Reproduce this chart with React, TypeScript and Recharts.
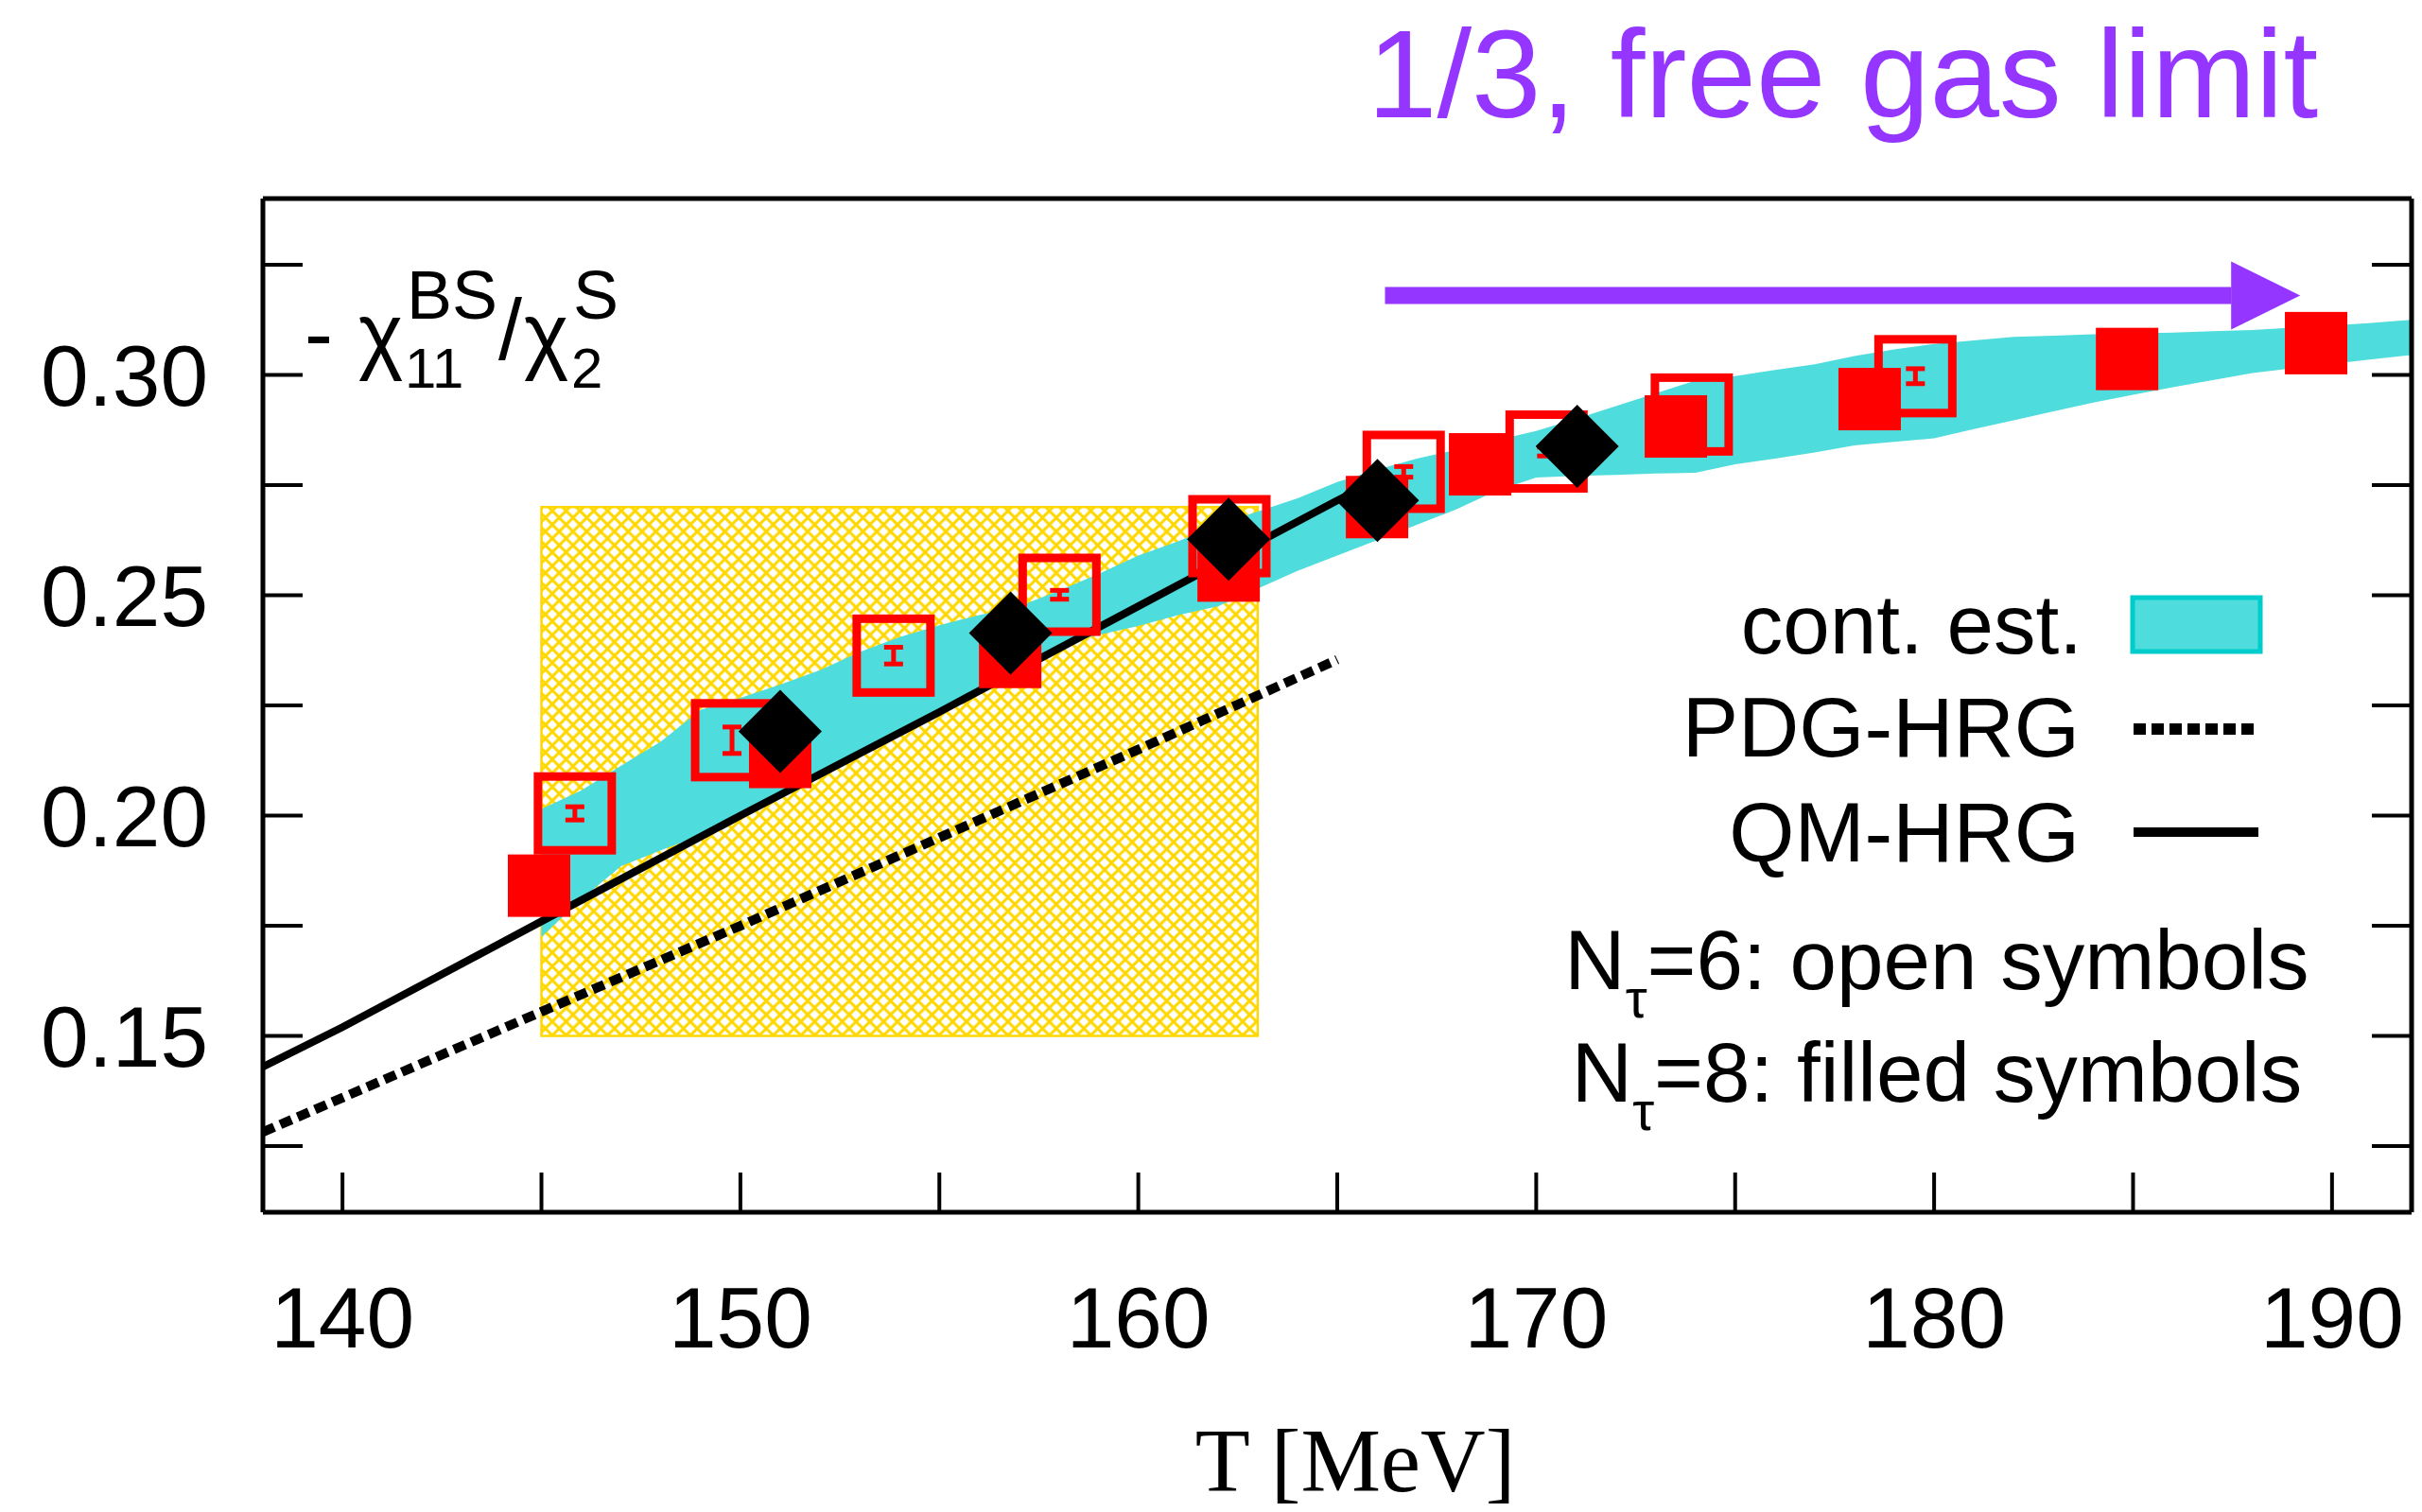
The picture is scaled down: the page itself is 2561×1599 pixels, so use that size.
import React from "react";
import {
  Area,
  ComposedChart,
  ErrorBar,
  Line,
  ReferenceArea,
  ReferenceDot,
  ReferenceLine,
  Scatter,
  XAxis,
  YAxis,
} from "recharts";

const W = 2561;
const H = 1599;
const FONT = '"Liberation Sans", Arial, Helvetica, sans-serif';
const SERIF = '"Liberation Serif", "Times New Roman", serif';
const PURPLE = "#9436ff";
const CYAN = "#4fdcdc";
const RED = "#ff0000";
const GOLD = "#ffd700";

// continuum estimate band (T, lower, upper)
const bandT = [
  145, 146, 147, 148, 149, 150, 151, 152, 153, 154, 155, 156, 157, 158, 159,
  160, 161, 162, 163, 164, 165, 166, 167, 168, 169, 170, 171, 172, 173, 174,
  175, 176, 177, 178, 179, 180, 181, 182, 183, 184, 185, 186, 187, 188, 189,
  190, 191, 192,
];
const bandLow = [
  0.1725, 0.181, 0.1885, 0.1921, 0.1955, 0.2005, 0.2045, 0.2085, 0.2135,
  0.218, 0.223, 0.228, 0.2335, 0.2389, 0.241, 0.243, 0.2455, 0.2475, 0.2515,
  0.2555, 0.259, 0.2625, 0.266, 0.2695, 0.2737, 0.2767, 0.2771, 0.2773,
  0.2776, 0.2778, 0.2797, 0.281, 0.2824, 0.284, 0.2848, 0.2856, 0.2877,
  0.2897, 0.2917, 0.2937, 0.2955, 0.2972, 0.2988, 0.3004, 0.3015, 0.3025,
  0.3035, 0.3045,
];
const bandHigh = [
  0.2015, 0.2057, 0.2113, 0.2168, 0.224, 0.2267, 0.2297, 0.233, 0.2371,
  0.2405, 0.2432, 0.2455, 0.2475, 0.251, 0.2548, 0.259, 0.2622, 0.266, 0.269,
  0.272, 0.2757, 0.2785, 0.281, 0.283, 0.2852, 0.2873, 0.29, 0.2929, 0.2958,
  0.2987, 0.2997, 0.3011, 0.3024, 0.3043, 0.3058, 0.307, 0.3078, 0.3086,
  0.3089, 0.3092, 0.3094, 0.3096, 0.3099, 0.3102, 0.3107, 0.3112, 0.3118,
  0.3125,
];

// HRG curves
const qmT = [138, 140, 145, 150, 155, 160, 165, 166];
const qmVal = [0.143, 0.152, 0.176, 0.2, 0.2235, 0.2475, 0.2715, 0.276];
const pdgT = [138, 145, 150, 155, 160, 165];
const pdgVal = [0.1282, 0.1555, 0.175, 0.195, 0.215, 0.2354];

// N_tau = 6 (open squares)
const nt6T = [145.84, 149.79, 153.85, 158.02, 162.29, 166.67, 170.26, 173.91, 179.53];
const nt6Val = [0.2005, 0.2171, 0.2363, 0.2501, 0.2634, 0.278, 0.2826, 0.291, 0.2997];
const nt6Err = [0.0015, 0.003, 0.0019, 0.001, 0.001, 0.0012, 0.001, 0.001, 0.0017];

// N_tau = 8 (filled squares)
const nt8T = [144.94, 151.0, 156.78, 162.27, 166.0, 168.59, 173.51, 178.38, 184.85, 189.6];
const nt8Val = [0.1841, 0.2133, 0.236, 0.2556, 0.27, 0.2797, 0.2883, 0.2945, 0.3036, 0.3072];

// black diamonds
const diaT = [151.0, 156.79, 162.27, 166.01, 171.03];
const diaVal = [0.2191, 0.2414, 0.2627, 0.2715, 0.2838];

// free gas limit arrow
const arrowStart = 166.2;
const arrowHeadBase = 187.47;
const arrowTip = 189.2;
const arrowY = 0.318;

const xTicks = [140, 145, 150, 155, 160, 165, 170, 175, 180, 185, 190];
const yTicks = [0.125, 0.15, 0.175, 0.2, 0.225, 0.25, 0.275, 0.3, 0.325];
const xDomain = [138, 192];
const yDomain = [0.11, 0.34];

const band = bandT.map((T, i) => ({ T, range: [bandLow[i], bandHigh[i]] }));
const qm = qmT.map((T, i) => ({ T, v: qmVal[i] }));
const pdg = pdgT.map((T, i) => ({ T, v: pdgVal[i] }));
const nt6 = nt6T.map((T, i) => ({ T, v: nt6Val[i], err: nt6Err[i] }));
const nt8 = nt8T.map((T, i) => ({ T, v: nt8Val[i] }));
const dia = diaT.map((T, i) => ({ T, v: diaVal[i] }));

function OpenSquare(props: any) {
  const { cx, cy } = props;
  if (cx == null || cy == null) return null;
  return (
    <rect x={cx - 39} y={cy - 39} width={78} height={78} fill="none" stroke={RED} strokeWidth={9} />
  );
}

function FilledSquare(props: any) {
  const { cx, cy } = props;
  if (cx == null || cy == null) return null;
  return <rect x={cx - 33} y={cy - 33} width={66} height={66} fill={RED} />;
}

function Diamond(props: any) {
  const { cx, cy } = props;
  if (cx == null || cy == null) return null;
  const d = 44;
  return (
    <polygon
      points={`${cx},${cy - d} ${cx + d},${cy} ${cx},${cy + d} ${cx - d},${cy}`}
      fill="#000"
    />
  );
}

function ArrowHead(props: any) {
  const { cx, cy } = props;
  if (cx == null || cy == null) return null;
  return (
    <polygon points={`${cx},${cy} ${cx - 73},${cy - 36} ${cx - 73},${cy + 36}`} fill={PURPLE} />
  );
}

const axisLine = { stroke: "#000", strokeWidth: 5 };
const tickLine = { stroke: "#000", strokeWidth: 4 };
const tickFont = { fontSize: 91, fill: "#000", fontFamily: FONT };

export default function App() {
  return (
    <div style={{ position: "absolute", left: 0, top: 0, width: W, height: H, background: "#fff" }}>
      <svg width={0} height={0} style={{ position: "absolute" }}>
        <defs>
          <pattern id="hatch" width="14.6" height="14.6" patternUnits="userSpaceOnUse">
            <path d="M-1,-1 L15.6,15.6 M15.6,-1 L-1,15.6" stroke={GOLD} strokeWidth="3" />
          </pattern>
        </defs>
      </svg>
      <ComposedChart width={W} height={H} margin={{ top: 209, right: 10, bottom: 167, left: 78 }}>
        <XAxis
          dataKey="T"
          type="number"
          domain={xDomain}
          allowDataOverflow
          ticks={xTicks}
          interval={0}
          tickFormatter={(v: number) => (v % 10 === 0 ? String(v) : "")}
          tickSize={-42}
          tickMargin={120}
          height={150}
          axisLine={axisLine}
          tickLine={tickLine}
          tick={tickFont}
        />
        <XAxis
          xAxisId="top"
          orientation="top"
          type="number"
          domain={xDomain}
          allowDataOverflow
          ticks={xTicks}
          interval={0}
          tickFormatter={() => ""}
          tickSize={-42}
          height={1}
          axisLine={axisLine}
          tickLine={tickLine}
        />
        <YAxis
          type="number"
          domain={yDomain}
          allowDataOverflow
          ticks={yTicks}
          interval={0}
          tickFormatter={(v: number) => (Math.round(v * 1000) % 50 === 0 ? v.toFixed(2) : "")}
          tickSize={-42}
          tickMargin={100}
          width={200}
          axisLine={axisLine}
          tickLine={tickLine}
          tick={tickFont}
        />
        <YAxis
          yAxisId="right"
          orientation="right"
          type="number"
          domain={yDomain}
          allowDataOverflow
          ticks={yTicks}
          interval={0}
          tickFormatter={() => ""}
          tickSize={-42}
          width={1}
          axisLine={axisLine}
          tickLine={tickLine}
        />
        <ReferenceArea
          x1={145}
          x2={163}
          y1={0.15}
          y2={0.27}
          fill="url(#hatch)"
          fillOpacity={1}
          stroke={GOLD}
          strokeWidth={2.5}
        />
        <Area
          data={band}
          dataKey="range"
          type="linear"
          stroke="none"
          fill={CYAN}
          fillOpacity={1}
          isAnimationActive={false}
        />
        <Line
          data={pdg}
          dataKey="v"
          type="linear"
          stroke="#000"
          strokeWidth={10}
          strokeDasharray="13 7"
          dot={false}
          isAnimationActive={false}
        />
        <Line
          data={qm}
          dataKey="v"
          type="linear"
          stroke="#000"
          strokeWidth={8}
          dot={false}
          isAnimationActive={false}
        />
        <Scatter data={nt6} dataKey="v" shape={OpenSquare} isAnimationActive={false}>
          <ErrorBar
            dataKey="err"
            direction="y"
            width={10}
            strokeWidth={5}
            stroke={RED}
            isAnimationActive={false}
          />
        </Scatter>
        <Scatter data={nt8} dataKey="v" shape={FilledSquare} isAnimationActive={false} />
        <Scatter data={dia} dataKey="v" shape={Diamond} isAnimationActive={false} />
        <ReferenceLine
          segment={[
            { x: arrowStart, y: arrowY },
            { x: arrowHeadBase, y: arrowY },
          ]}
          stroke={PURPLE}
          strokeWidth={18}
        />
        <ReferenceDot x={arrowTip} y={arrowY} shape={ArrowHead} />
      </ComposedChart>
      <svg
        width={W}
        height={H}
        style={{ position: "absolute", left: 0, top: 0, pointerEvents: "none" }}
        fontFamily={FONT}
      >
        <text x={1446} y={124} fontSize={132} fill={PURPLE}>
          1/3, free gas limit
        </text>

        {/* y label: - chi_11^BS / chi_2^S */}
        <text x={322} y={384} fontSize={90}>-</text>
        <text x={379} y={384} fontSize={90}>χ</text>
        <text x={428} y={410} fontSize={60}>11</text>
        <text x={430} y={337} fontSize={72}>BS</text>
        <text x={527} y={380} fontSize={90}>/</text>
        <text x={554} y={384} fontSize={90}>χ</text>
        <text x={604} y={410} fontSize={60}>2</text>
        <text x={606} y={337} fontSize={72}>S</text>

        <text x={1433} y={1577} fontSize={95} fontFamily={SERIF} textAnchor="middle">
          T [MeV]
        </text>

        {/* legend */}
        <text x={2202} y={691} fontSize={89} textAnchor="end">cont. est.</text>
        <rect x={2255} y={632} width={135} height={57} fill={CYAN} stroke="#00cccc" strokeWidth={5} />
        <text x={2199} y={800} fontSize={89} textAnchor="end">PDG-HRG</text>
        <line x1={2256} x2={2388} y1={771} y2={771} stroke="#000" strokeWidth={12} strokeDasharray="13 6" />
        <text x={2199} y={911} fontSize={89} textAnchor="end">QM-HRG</text>
        <line x1={2256} x2={2388} y1={880} y2={880} stroke="#000" strokeWidth={10} />
        <text x={2048} y={1046} fontSize={89} textAnchor="middle">
          N<tspan fontSize={58} dy={30}>τ</tspan>
          <tspan dy={-30}>=6: open symbols</tspan>
        </text>
        <text x={2048} y={1165} fontSize={89} textAnchor="middle">
          N<tspan fontSize={58} dy={30}>τ</tspan>
          <tspan dy={-30}>=8: filled symbols</tspan>
        </text>
      </svg>
    </div>
  );
}
